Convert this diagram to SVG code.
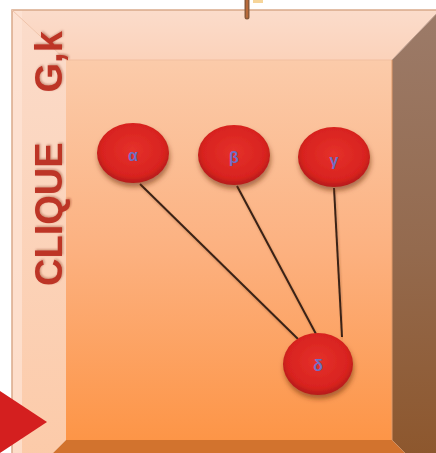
<svg xmlns="http://www.w3.org/2000/svg" width="436" height="453" viewBox="0 0 436 453">
  <style>
    .node { fill: url(#nodeFill); filter: url(#nodeShadow); }
    .lbl { font-family: "Liberation Sans", Arial, sans-serif; font-size: 16px; font-weight: bold; fill: #6f6fc4; text-anchor: middle; dominant-baseline: central; }
    .edge { stroke: #3a2418; stroke-width: 2; fill: none; filter: url(#edgeShadow); }
    .title { font-family: "Liberation Sans", Arial, sans-serif; font-size: 38px; font-weight: bold; fill: #bd3527; filter: url(#textShadow); }
  </style>
  <defs>
    <linearGradient id="faceFill" x1="0" y1="0" x2="0" y2="1">
      <stop offset="0" stop-color="#fbcbaa"/>
      <stop offset="0.5" stop-color="#fcb180"/>
      <stop offset="1" stop-color="#fd9547"/>
    </linearGradient>
    <linearGradient id="leftFill" x1="0" y1="0" x2="0" y2="1">
      <stop offset="0" stop-color="#fbdccb"/>
      <stop offset="1" stop-color="#fcc9a6"/>
    </linearGradient>
    <linearGradient id="topFill" x1="0" y1="0" x2="0" y2="1">
      <stop offset="0" stop-color="#fbdccb"/>
      <stop offset="1" stop-color="#fbd2ba"/>
    </linearGradient>
    <linearGradient id="rightFill" x1="0" y1="0" x2="0" y2="1">
      <stop offset="0" stop-color="#9c7b69"/>
      <stop offset="0.5" stop-color="#946a4e"/>
      <stop offset="1" stop-color="#8c5428"/>
    </linearGradient>
    <radialGradient id="nodeFill" cx="0.5" cy="0.45" r="0.55">
      <stop offset="0" stop-color="#e5312b"/>
      <stop offset="0.8" stop-color="#d8231f"/>
      <stop offset="1" stop-color="#b41b19"/>
    </radialGradient>
    <filter id="nodeShadow" x="-30%" y="-30%" width="160%" height="170%">
      <feGaussianBlur in="SourceAlpha" stdDeviation="2.5"/>
      <feOffset dx="1" dy="4" result="b"/>
      <feFlood flood-color="#6a2a10" flood-opacity="0.55"/>
      <feComposite in2="b" operator="in" result="s"/>
      <feMerge><feMergeNode in="s"/><feMergeNode in="SourceGraphic"/></feMerge>
    </filter>
    <filter id="edgeShadow" x="-10%" y="-10%" width="120%" height="120%">
      <feGaussianBlur in="SourceAlpha" stdDeviation="1"/>
      <feOffset dx="1" dy="2" result="b"/>
      <feFlood flood-color="#7a4020" flood-opacity="0.35"/>
      <feComposite in2="b" operator="in" result="s"/>
      <feMerge><feMergeNode in="s"/><feMergeNode in="SourceGraphic"/></feMerge>
    </filter>
    <filter id="textShadow" x="-20%" y="-20%" width="140%" height="140%">
      <feGaussianBlur in="SourceAlpha" stdDeviation="1"/>
      <feOffset dx="1" dy="1" result="b"/>
      <feFlood flood-color="#7a2010" flood-opacity="0.4"/>
      <feComposite in2="b" operator="in" result="s"/>
      <feMerge><feMergeNode in="s"/><feMergeNode in="SourceGraphic"/></feMerge>
    </filter>
  </defs>

  <rect width="436" height="453" fill="#ffffff"/>

  <!-- bevelled container -->
  <g id="container">
    <polygon points="12,10 440,10 392,60 66,60" fill="url(#topFill)"/>
    <polygon points="12,10 66,60 66,440 12,494" fill="url(#leftFill)"/>
    <rect x="12" y="10" width="10" height="443" fill="#fde4d6" opacity="0.7"/>
    <polygon points="440,10 392,60 392,440 440,488" fill="url(#rightFill)"/>
    <polygon points="66,440 392,440 440,488 12,494" fill="#d2732e"/>
    <rect x="66" y="60" width="326" height="380" fill="url(#faceFill)"/>
    <polyline points="12,453 12,10 440,10" fill="none" stroke="#d9a98a" stroke-width="1.5"/>
    <line x1="12" y1="10" x2="66" y2="60" stroke="#f0c4aa" stroke-width="1"/>
    <line x1="66" y1="60" x2="392" y2="60" stroke="#f2bfa0" stroke-width="1"/>
    <line x1="392" y1="60" x2="440" y2="10" stroke="#c0a090" stroke-width="1"/>
    <line x1="392" y1="60" x2="392" y2="440" stroke="#e09a6a" stroke-width="1"/>
    <text class="title" transform="translate(62,286) rotate(-90)">CLIQUE<tspan dx="50">G,k</tspan></text>
  </g>

  <!-- partial incoming arrow and top stub -->
  <g id="incoming">
    <polygon points="0,391 47,422 0,453" fill="#d41f1f"/>
    <line x1="247" y1="0" x2="247" y2="17" stroke="#8a5a3a" stroke-width="5" stroke-linecap="round"/>
    <line x1="247" y1="0" x2="247" y2="17" stroke="#b86a3a" stroke-width="2" stroke-linecap="round"/>
    <rect x="253" y="0" width="10" height="3" fill="#f6d59a"/>
  </g>

  <!-- edges -->
  <g id="connectors">
    <line class="edge" x1="140" y1="184" x2="298" y2="339"/>
    <line class="edge" x1="237" y1="186" x2="316" y2="334"/>
    <line class="edge" x1="334" y1="188" x2="342" y2="337"/>
  </g>

  <!-- nodes -->
  <g id="node-alpha">
    <ellipse class="node" cx="133" cy="153" rx="36" ry="30"/>
    <text class="lbl" x="133" y="155">α</text>
  </g>
  <g id="node-beta">
    <ellipse class="node" cx="234" cy="155" rx="36" ry="30"/>
    <text class="lbl" x="234" y="157">β</text>
  </g>
  <g id="node-gamma">
    <ellipse class="node" cx="334" cy="157" rx="36" ry="30"/>
    <text class="lbl" x="334" y="160">γ</text>
  </g>
  <g id="node-delta">
    <ellipse class="node" cx="318" cy="364" rx="35" ry="31"/>
    <text class="lbl" x="318" y="365">δ</text>
  </g>
</svg>
